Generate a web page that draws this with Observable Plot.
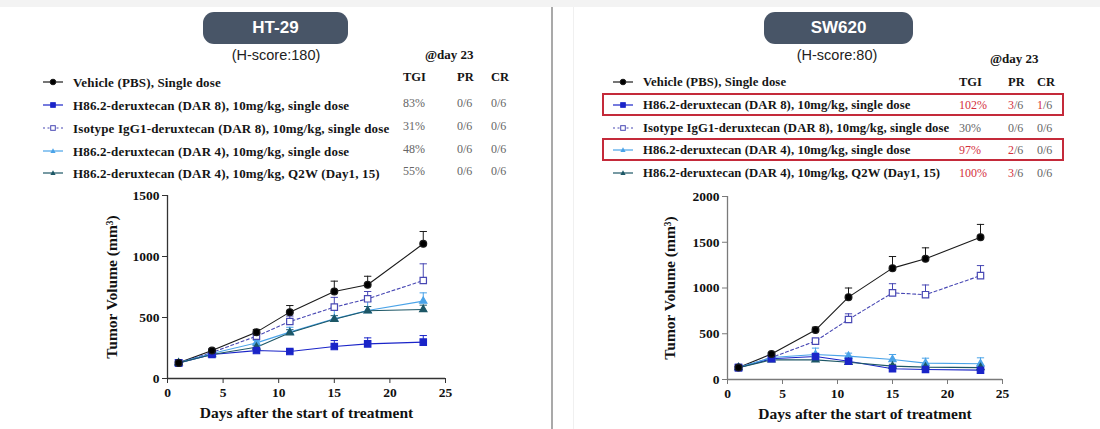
<!DOCTYPE html>
<html><head><meta charset="utf-8">
<script src="https://cdn.jsdelivr.net/npm/d3@7"></script>
<script src="https://cdn.jsdelivr.net/npm/@observablehq/plot@0.6"></script>
<style>
body{margin:0;background:#fff;}
#root{position:relative;width:1100px;height:429px;overflow:hidden;font-family:"Liberation Serif","Times New Roman",serif;background:#fff;}
.abs{position:absolute;white-space:nowrap;line-height:1;transform:translateY(-50%);}
.pill{position:absolute;background:#485567;border-radius:11px;color:#fff;font:bold 17px "Liberation Sans",Arial,sans-serif;display:flex;align-items:center;justify-content:center;}
.hs{position:absolute;font:14.5px "Liberation Sans",Arial,sans-serif;color:#222;transform:translate(-50%,-50%);white-space:nowrap;line-height:1;}
.lbl{font-weight:bold;color:#151515;}
.hdr{font-weight:bold;font-size:12.5px;color:#151515;}
.day{font-weight:bold;font-size:13px;color:#151515;}
.val{font-size:12px;color:#666;}
.red{color:#d4303c;}
.box{position:absolute;border:2px solid #c42a3a;box-sizing:border-box;}
.chart{position:absolute;}
.chart svg{overflow:visible;}
</style></head>
<body><div id="root"></div>
<script>
// ---------- data ----------
const days = [1, 4, 8, 11, 15, 18, 23];
const seriesNames = [
  "Vehicle (PBS),  Single dose",
  "H86.2-deruxtecan (DAR 8), 10mg/kg, single dose",
  "Isotype IgG1-deruxtecan (DAR 8), 10mg/kg, single dose",
  "H86.2-deruxtecan (DAR 4), 10mg/kg, single dose",
  "H86.2-deruxtecan (DAR 4), 10mg/kg, Q2W (Day1, 15)"
];
const panelTitles = ["HT-29", "SW620"];
const panelSubtitles = ["(H-score:180)", "(H-score:80)"];
const dayLabel = "@day 23";
const tableHeaders = ["TGI", "PR", "CR"];
const xTicks = [0, 5, 10, 15, 20, 25];
const ht29YTicks = [0, 500, 1000, 1500];
const sw620YTicks = [0, 500, 1000, 1500, 2000];
const xLabel = "Days after the start of treatment";
const yLabel = "Tumor Volume (mm³)";

// HT-29 mean tumour volume and SEM
const ht29Vehicle    = [128, 229, 380, 544, 713, 768, 1104];
const ht29VehicleSem = [8, 14, 22, 54, 85, 70, 101];
const ht29Dar8       = [128, 197, 229, 221, 262, 284, 298];
const ht29Dar8Sem    = [8, 12, 15, 15, 49, 49, 54];
const ht29Isotype    = [128, 213, 347, 467, 585, 653, 803];
const ht29IsotypeSem = [8, 14, 25, 45, 80, 60, 137];
const ht29Dar4       = [128, 205, 292, 380, 489, 557, 634];
const ht29Dar4Sem    = [8, 12, 20, 40, 95, 75, 68];
const ht29Q2w        = [128, 197, 257, 375, 485, 555, 566];
const ht29Q2wSem     = [8, 10, 15, 25, 30, 35, 35];
const ht29TGI = ["", "83%", "31%", "48%", "55%"];
const ht29PR  = ["", "0/6", "0/6", "0/6", "0/6"];
const ht29CR  = ["", "0/6", "0/6", "0/6", "0/6"];

// SW620 mean tumour volume and SEM
const sw620Vehicle    = [130, 278, 540, 900, 1217, 1319, 1555];
const sw620VehicleSem = [10, 15, 32, 100, 127, 120, 140];
const sw620Dar8       = [130, 226, 251, 200, 117, 109, 102];
const sw620Dar8Sem    = [10, 12, 18, 18, 12, 10, 10];
const sw620Isotype    = [130, 240, 419, 656, 947, 927, 1135];
const sw620IsotypeSem = [10, 15, 20, 62, 100, 106, 110];
const sw620Dar4       = [130, 240, 273, 255, 219, 179, 172];
const sw620Dar4Sem    = [10, 15, 70, 33, 54, 54, 65];
const sw620Q2w        = [130, 215, 215, 189, 146, 135, 130];
const sw620Q2wSem     = [10, 10, 15, 18, 20, 20, 20];
const sw620TGI = ["", "102%", "30%", "97%", "100%"];
const sw620PR  = ["", "3/6", "0/6", "2/6", "3/6"];
const sw620CR  = ["", "1/6", "0/6", "0/6", "0/6"];
const sw620BoxedRows = [1, 3];

// ---------- styles ----------
const seriesStyle = [
  {color: "#1a1a1a", symbol: "circle",   fill: "#000",    dash: null, r: 3.4},
  {color: "#1a24c8", symbol: "square",   fill: "#1a24c8", dash: null, r: 3.6},
  {color: "#4848b4", symbol: "square",   fill: "#fff",    dash: "3,2.5", r: 3.6},
  {color: "#4aa3e8", symbol: "triangle", fill: "#4aa3e8", dash: null, r: 2.7},
  {color: "#1d5766", symbol: "triangle", fill: "#1d5766", dash: null, r: 2.7}
];

function buildRows(means, sems) {
  const rows = [];
  means.forEach((m, s) => m.forEach((v, i) => rows.push({series: s, day: days[i], v, sem: sems[s][i]})));
  return rows;
}
const ht29Rows = buildRows([ht29Vehicle, ht29Dar8, ht29Isotype, ht29Dar4, ht29Q2w],
  [ht29VehicleSem, ht29Dar8Sem, ht29IsotypeSem, ht29Dar4Sem, ht29Q2wSem]);
const sw620Rows = buildRows([sw620Vehicle, sw620Dar8, sw620Isotype, sw620Dar4, sw620Q2w],
  [sw620VehicleSem, sw620Dar8Sem, sw620IsotypeSem, sw620Dar4Sem, sw620Q2wSem]);

const root = document.getElementById("root");
function el(tag, cls, css, html) {
  const e = document.createElement(tag);
  if (cls) e.className = cls;
  Object.assign(e.style, css || {});
  if (html != null) e.innerHTML = html;
  root.appendChild(e);
  return e;
}

// page frame
el("div", null, {position:"absolute", left:"0", top:"0", width:"1100px", height:"7px", background:"#f3f3f3"});
el("div", null, {position:"absolute", left:"551px", top:"7px", width:"2px", height:"422px", background:"#a9a9a9"});
el("div", null, {position:"absolute", left:"573px", top:"7px", width:"1px", height:"422px", background:"#f0f0f0"});

function swatch(st) {
  const sz = 3.6;
  let mk;
  if (st.symbol === "circle") mk = `<circle cx="10" cy="5" r="2.8" fill="${st.fill}" stroke="${st.color}"/>`;
  else if (st.symbol === "square") mk = `<rect x="${10-sz/2-0.5}" y="${5-sz/2-0.5}" width="${sz+1}" height="${sz+1}" fill="${st.fill}" stroke="${st.color}" stroke-width="1"/>`;
  else mk = `<path d="M10,2.3 L12.6,7 L7.4,7 Z" fill="${st.fill}"/>`;
  return `<svg width="20" height="10" style="display:block"><line x1="0" x2="20" y1="5" y2="5" stroke="${st.color}" stroke-width="1.2" ${st.dash ? 'stroke-dasharray="2,2.5"' : ''}/>${mk}</svg>`;
}

function fracHTML(s) {
  const [n, d] = s.split("/");
  return +n > 0 ? `<span class="red">${n}</span>/${d}` : s;
}

function panel(cfg) {
  el("div", "pill", {left: cfg.pill[0] + "px", top: "12px", width: cfg.pill[1] + "px", height: "32px"}, cfg.title);
  el("div", "hs", {left: cfg.subX + "px", top: "55px"}, cfg.subtitle);
  el("div", "abs day", {left: cfg.dayX + "px", top: cfg.dayY + "px"}, dayLabel);
  tableHeaders.forEach((h, j) => el("div", "abs hdr", {left: cfg.colX[j] + "px", top: cfg.hdrY + "px"}, h));
  (cfg.boxed || []).forEach(r => el("div", "box", {left: cfg.box[0] + "px", width: cfg.box[1] + "px", top: (cfg.rowY[r] - 12) + "px", height: "23px"}));
  seriesNames.forEach((name, r) => {
    el("div", "abs", {left: cfg.symX + "px", top: cfg.rowY[r] + "px"}, swatch(seriesStyle[r]));
    el("div", "abs lbl", {left: cfg.textX + "px", top: cfg.rowY[r] + "px", fontSize: cfg.fs + "px", letterSpacing: cfg.ls + "px"}, name);
    if (r > 0) {
      const tgi = cfg.tgi[r];
      el("div", "abs val" + (parseFloat(tgi) >= 90 ? " red" : ""), {left: cfg.colX[0] + "px", top: (cfg.rowY[r] + cfg.valDy) + "px"}, tgi);
      el("div", "abs val", {left: cfg.colX[1] + "px", top: (cfg.rowY[r] + cfg.valDy) + "px"}, fracHTML(cfg.pr[r]));
      el("div", "abs val", {left: cfg.colX[2] + "px", top: (cfg.rowY[r] + cfg.valDy) + "px"}, fracHTML(cfg.cr[r]));
    }
  });
  const svg = chart(cfg.rows, cfg.plot);
  const holder = el("div", "chart", {left: cfg.plot.left + "px", top: cfg.plot.top + "px"});
  holder.appendChild(svg);
}

function chart(rows, p) {
  const marks = [
    Plot.axisX({ticks: xTicks, tickSize: 5, tickPadding: 4, stroke: p.axis, fill: "#111", tickFormat: d => String(d), label: null}),
    Plot.axisY({ticks: p.yTicks, tickSize: 5, tickPadding: 3, stroke: p.axis, fill: "#111", tickFormat: d => String(d), label: null}),
    Plot.text([xLabel], {frameAnchor: "bottom", dy: 35, textAnchor: "middle", lineAnchor: "middle", fontSize: 15.5, fontWeight: "bold", fill: "#111"}),
    Plot.text([yLabel], {frameAnchor: "left", dx: p.yLabelDx, rotate: -90, textAnchor: "middle", lineAnchor: "middle", fontSize: 15.5, fontWeight: "bold", fill: "#111"}),
    Plot.ruleY([0], {stroke: p.axis, strokeWidth: 1.3}),
    Plot.ruleX([0], {stroke: p.axis, strokeWidth: 1.3})
  ];
  seriesStyle.forEach((st, s) => {
    const d = rows.filter(r => r.series === s);
    marks.push(Plot.ruleX(d, {x: "day", y1: "v", y2: r => r.v + r.sem, stroke: st.color, strokeWidth: 1}));
    marks.push(Plot.link(d, {x1: r => r.day - 0.33, x2: r => r.day + 0.33, y1: r => r.v + r.sem, y2: r => r.v + r.sem, stroke: st.color, strokeWidth: 1}));
  });
  seriesStyle.forEach((st, s) => {
    const d = rows.filter(r => r.series === s);
    marks.push(Plot.line(d, {x: "day", y: "v", stroke: st.color, strokeWidth: 1.1, strokeDasharray: st.dash || undefined}));
  });
  [3, 4, 2, 1, 0].forEach(s => {
    const st = seriesStyle[s];
    const d = rows.filter(r => r.series === s);
    marks.push(Plot.dot(d, {x: "day", y: "v", symbol: st.symbol, r: st.r, fill: st.fill, stroke: st.color, strokeWidth: 1.2}));
  });
  return Plot.plot({
    width: p.width, height: p.height,
    marginLeft: p.ml, marginRight: p.mr, marginTop: p.mt, marginBottom: p.mb,
    x: {domain: [0, 25]}, y: {domain: [0, p.yMax]},
    style: {background: "transparent", fontFamily: '"Liberation Serif","Times New Roman",serif', fontWeight: "bold", fontSize: "13.5px", color: "#111", overflow: "visible"},
    marks
  });
}

panel({
  title: panelTitles[0], subtitle: panelSubtitles[0], pill: [203, 145], subX: 276,
  dayX: 425, dayY: 54, hdrY: 77, colX: [403, 457, 491],
  symX: 43, textX: 73, fs: 13, ls: 0.15, rowY: [82, 105, 128, 151, 173], valDy: -2,
  tgi: ht29TGI, pr: ht29PR, cr: ht29CR, rows: ht29Rows,
  plot: {left: 90, top: 185, width: 370, height: 240, ml: 77, mr: 15, mt: 10, mb: 47, yMax: 1500, yTicks: ht29YTicks,
    axis: "#333", yLabelDx: -55.5}
});
panel({
  title: panelTitles[1], subtitle: panelSubtitles[1], pill: [764, 149], subX: 837,
  dayX: 990, dayY: 58, hdrY: 82, colX: [959, 1008, 1037],
  symX: 613, textX: 643, fs: 12.7, ls: 0.1, rowY: [82, 105, 128, 150, 173], valDy: 0,
  boxed: sw620BoxedRows, box: [602, 462],
  tgi: sw620TGI, pr: sw620PR, cr: sw620CR, rows: sw620Rows,
  plot: {left: 640, top: 185, width: 380, height: 240, ml: 87, mr: 18, mt: 11, mb: 46, yMax: 2000, yTicks: sw620YTicks,
    axis: "#7a7a7a", yLabelDx: -57}
});
</script></body></html>
